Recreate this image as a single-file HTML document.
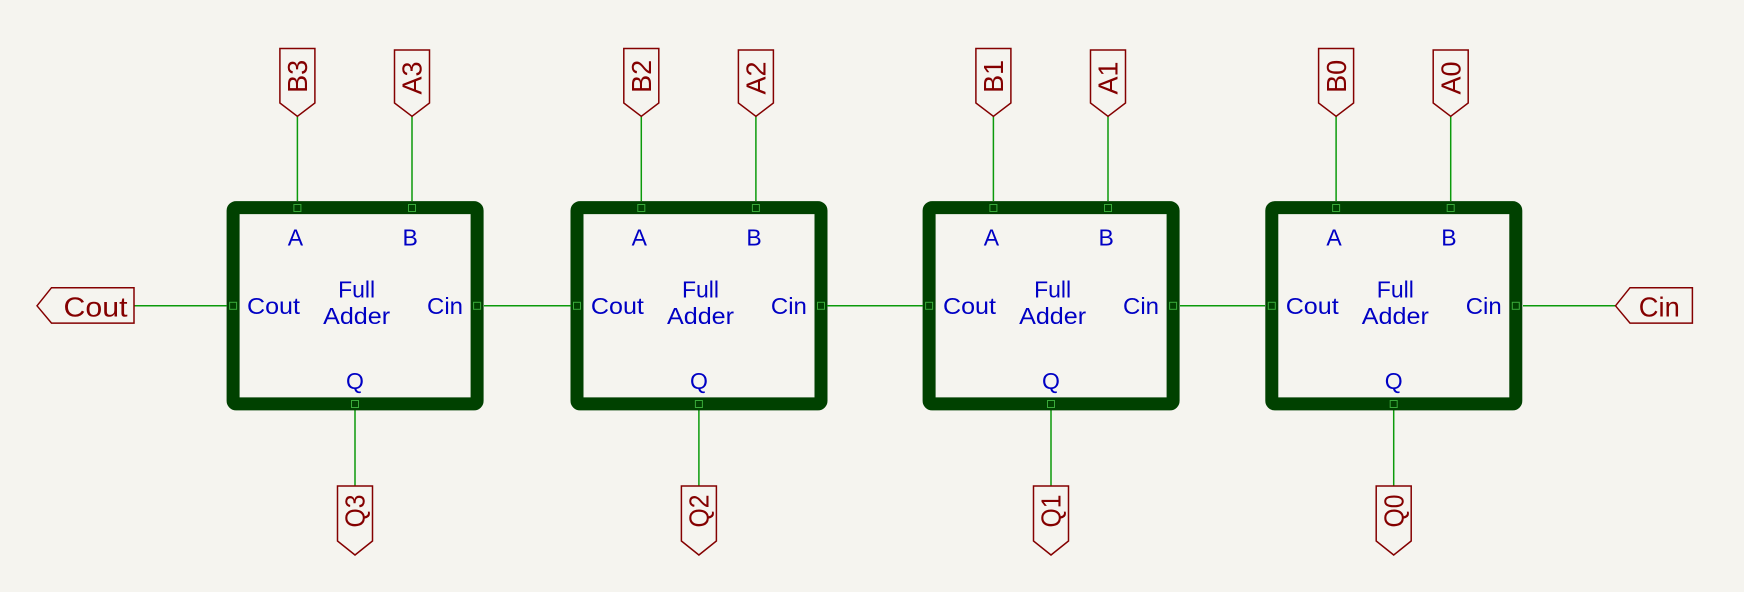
<!DOCTYPE html>
<html><head><meta charset="utf-8"><style>
html,body{margin:0;padding:0;background:#f5f4ef;}
svg{display:block;}
text{font-family:"Liberation Sans",sans-serif;}
</style></head><body>
<svg width="1744" height="592" viewBox="0 0 1744 592" xmlns="http://www.w3.org/2000/svg">
<rect width="1744" height="592" fill="#f5f4ef"/>
<defs>
<g id="fa">
  <line x1="70.8" y1="116" x2="70.8" y2="201" stroke="#0b9a0b" stroke-width="1.5"/>
  <line x1="185.4" y1="116" x2="185.4" y2="201" stroke="#0b9a0b" stroke-width="1.5"/>
  <line x1="128.4" y1="410" x2="128.4" y2="486" stroke="#0b9a0b" stroke-width="1.5"/>
  <rect x="6.5" y="207.6" width="244" height="196.3" rx="3" fill="none" stroke="#004100" stroke-width="13"/>
  <g fill="none" stroke="#3aaa3a" stroke-width="1">
    <rect x="67.3" y="204.5" width="7" height="7"/>
    <rect x="181.9" y="204.5" width="7" height="7"/>
    <rect x="124.9" y="400.5" width="7" height="7"/>
    <rect x="3" y="302.3" width="7" height="7"/>
    <rect x="247" y="302.3" width="7" height="7"/>
  </g>
  <g fill="#0000c4" font-size="23">
    <text x="68.8" y="245.4" text-anchor="middle">A</text>
    <text x="183.6" y="245.4" text-anchor="middle">B</text>
    <text x="20.4" y="314" textLength="53" lengthAdjust="spacingAndGlyphs">Cout</text>
    <text x="200.4" y="314" textLength="36" lengthAdjust="spacingAndGlyphs">Cin</text>
    <text x="130" y="297.5" text-anchor="middle">Full</text>
    <text x="130" y="323.9" text-anchor="middle" textLength="67" lengthAdjust="spacingAndGlyphs">Adder</text>
    <text x="128.4" y="388.8" text-anchor="middle">Q</text>
  </g>
  <g fill="none" stroke="#840000" stroke-width="1.5">
    <polygon points="53.3,48.5 88.3,48.5 88.3,103 70.8,116.3 53.3,103"/>
    <polygon points="167.9,50 202.9,50 202.9,103 185.4,116.3 167.9,103"/>
    <polygon points="110.9,486 145.9,486 145.9,541 128.4,555 110.9,541"/>
  </g>
</g>
</defs>

<g transform="translate(226.6,0)"><use href="#fa"/>
<g fill="#840000" font-size="28">
<text transform="translate(80.5,76.4) rotate(-90)" text-anchor="middle" textLength="33" lengthAdjust="spacingAndGlyphs">B3</text>
<text transform="translate(195.1,78) rotate(-90)" text-anchor="middle" textLength="33" lengthAdjust="spacingAndGlyphs">A3</text>
<text transform="translate(138.1,511) rotate(-90)" text-anchor="middle" textLength="33" lengthAdjust="spacingAndGlyphs">Q3</text>
</g></g>

<g transform="translate(570.5,0)"><use href="#fa"/>
<g fill="#840000" font-size="28">
<text transform="translate(80.5,76.4) rotate(-90)" text-anchor="middle" textLength="33" lengthAdjust="spacingAndGlyphs">B2</text>
<text transform="translate(195.1,78) rotate(-90)" text-anchor="middle" textLength="33" lengthAdjust="spacingAndGlyphs">A2</text>
<text transform="translate(138.1,511) rotate(-90)" text-anchor="middle" textLength="33" lengthAdjust="spacingAndGlyphs">Q2</text>
</g></g>

<g transform="translate(922.6,0)"><use href="#fa"/>
<g fill="#840000" font-size="28">
<text transform="translate(80.5,76.4) rotate(-90)" text-anchor="middle" textLength="33" lengthAdjust="spacingAndGlyphs">B1</text>
<text transform="translate(195.1,78) rotate(-90)" text-anchor="middle" textLength="33" lengthAdjust="spacingAndGlyphs">A1</text>
<text transform="translate(138.1,511) rotate(-90)" text-anchor="middle" textLength="33" lengthAdjust="spacingAndGlyphs">Q1</text>
</g></g>

<g transform="translate(1265.3,0)"><use href="#fa"/>
<g fill="#840000" font-size="28">
<text transform="translate(80.5,76.4) rotate(-90)" text-anchor="middle" textLength="33" lengthAdjust="spacingAndGlyphs">B0</text>
<text transform="translate(195.1,78) rotate(-90)" text-anchor="middle" textLength="33" lengthAdjust="spacingAndGlyphs">A0</text>
<text transform="translate(138.1,511) rotate(-90)" text-anchor="middle" textLength="33" lengthAdjust="spacingAndGlyphs">Q0</text>
</g></g>

<g stroke="#0b9a0b" stroke-width="1.5">
<line x1="134" y1="305.8" x2="227" y2="305.8"/>
<line x1="484" y1="305.8" x2="571" y2="305.8"/>
<line x1="827" y1="305.8" x2="923" y2="305.8"/>
<line x1="1180" y1="305.8" x2="1265" y2="305.8"/>
<line x1="1523" y1="305.8" x2="1615.5" y2="305.8"/>
</g>

<g fill="none" stroke="#840000" stroke-width="1.5">
<polygon points="37,305.8 51.5,287.7 134,287.7 134,323.1 51.5,323.1"/>
<polygon points="1615.5,305.8 1630,287.7 1692.4,287.7 1692.4,323.1 1630,323.1"/>
</g>
<g fill="#840000" font-size="28">
<text x="63.5" y="316.4" textLength="64" lengthAdjust="spacingAndGlyphs">Cout</text>
<text x="1638.8" y="316.4" textLength="41" lengthAdjust="spacingAndGlyphs">Cin</text>
</g>
</svg>
</body></html>
